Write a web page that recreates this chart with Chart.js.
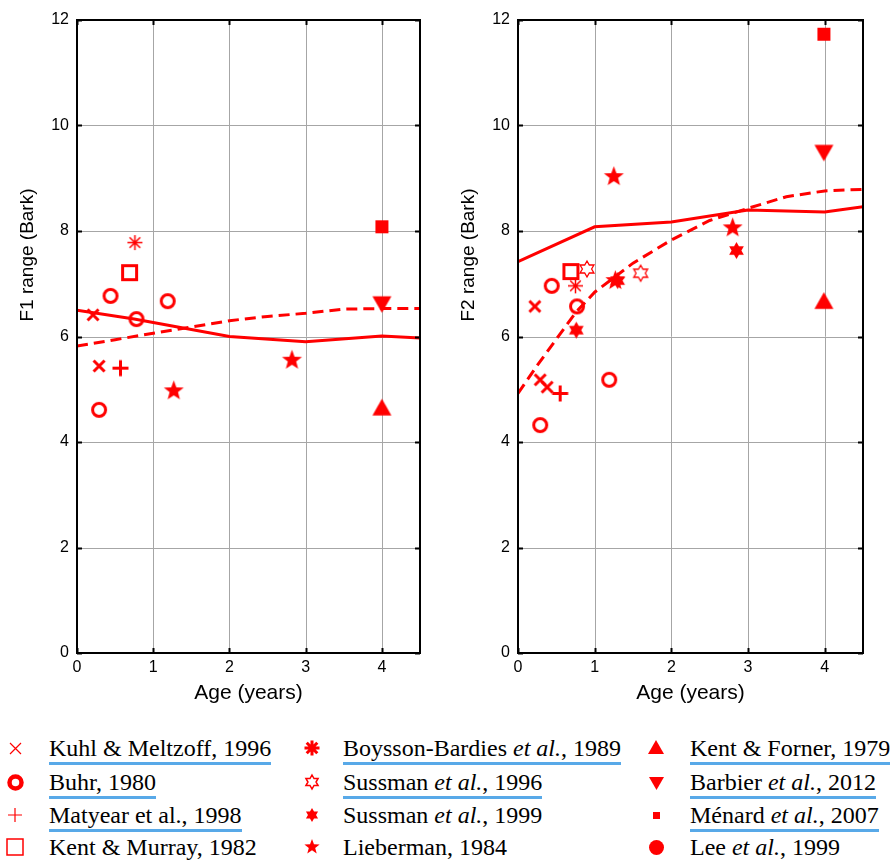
<!DOCTYPE html>
<html>
<head>
<meta charset="utf-8">
<script src="https://cdn.jsdelivr.net/npm/chart.js@4"></script>
<style>
  body { margin: 0; background: #fff; width: 893px; height: 860px; position: relative; overflow: hidden; }
  canvas.plot { position: absolute; top: 0; }
  .entry { position: absolute; height: 26px; line-height: 26px; white-space: nowrap;
    font-family: 'Liberation Serif', 'Times New Roman', serif; font-size: 24px; color: #000; }
  .entry .u { display: inline-block; line-height: 27px; border-bottom: 3px solid #58a9e8; }
  .sym { position: absolute; }
</style>
</head>
<body>
<canvas id="f1" class="plot" width="446" height="720" style="left:0"></canvas>
<canvas id="f2" class="plot" width="446" height="720" style="left:441px"></canvas>
<div id="legend"></div>
<script>
const ageTicks = [0, 1, 2, 3, 4];
const barkTicks = [0, 2, 4, 6, 8, 10, 12];

// model curves (age in years, range in Bark)
const solidAgeF1 = [0, 0.75, 2, 3, 4, 4.5];
const solidF1 = [6.5, 6.33, 6.0, 5.9, 6.01, 5.97];
const dashedAgeF1 = [0, 0.5, 1, 1.5, 2, 2.5, 3, 3.5, 4, 4.5];
const dashedF1 = [5.82, 5.94, 6.06, 6.18, 6.3, 6.38, 6.44, 6.52, 6.53, 6.53];

const solidAgeF2 = [0, 1, 2, 3, 4, 4.5];
const solidF2 = [7.42, 8.08, 8.17, 8.4, 8.36, 8.46];
const dashedAgeF2 = [0, 0.25, 0.5, 0.75, 1, 1.5, 2, 2.5, 3, 3.5, 4, 4.5];
const dashedF2 = [4.92, 5.45, 5.95, 6.45, 6.84, 7.39, 7.83, 8.2, 8.43, 8.65, 8.76, 8.79];

// study points, [age, range]
const kuhlF1 = [[0.21, 6.41], [0.29, 5.44]];
const buhrF1 = [[0.44, 6.77], [0.78, 6.33], [1.19, 6.67], [0.29, 4.61]];
const matyearF1 = [[0.57, 5.4]];
const kentMurrayF1 = [[0.69, 7.21]];
const boyssonF1 = [[0.76, 7.78]];
const liebermanF1 = [[1.27, 4.97], [2.82, 5.55]];
const kentFornerF1 = [[4, 4.64]];
const barbierF1 = [[4, 6.63]];
const menardF1 = [[4, 8.08]];

const kuhlF2 = [[0.22, 6.57], [0.29, 5.18], [0.38, 5.04]];
const buhrF2 = [[0.44, 6.96], [0.77, 6.57], [1.19, 5.18], [0.29, 4.32]];
const matyearF2 = [[0.55, 4.92]];
const kentMurrayF2 = [[0.69, 7.23]];
const boyssonF2 = [[0.75, 6.96]];
const sussman96F2 = [[0.9, 7.28], [1.6, 7.2]];
const sussman99F2 = [[0.76, 6.12], [1.3, 7.06], [2.85, 7.63]];
const liebermanF2 = [[1.25, 9.03], [1.27, 7.06], [2.8, 8.06]];
const kentFornerF2 = [[3.99, 6.66]];
const barbierF2 = [[3.99, 9.5]];
const menardF2 = [[3.99, 11.73]];

const red = '#ff0000';

function starPath(ctx, m, points, outer, inner) {
  for (let i = 0; i < points * 2; i++) {
    const r = i % 2 === 0 ? outer : inner;
    const a = -Math.PI / 2 + i * Math.PI / points;
    const px = m + r * Math.cos(a), py = m + r * Math.sin(a);
    i === 0 ? ctx.moveTo(px, py) : ctx.lineTo(px, py);
  }
  ctx.closePath();
}

// draws one marker into its own small canvas, used as pointStyle and in the legend
function marker(kind, size, lw, filled) {
  const c = document.createElement('canvas');
  const d = Math.ceil(size + lw + 4);
  c.width = d; c.height = d;
  const ctx = c.getContext('2d');
  const m = d / 2, r = size / 2;
  ctx.strokeStyle = red; ctx.fillStyle = red; ctx.lineWidth = lw;
  ctx.beginPath();
  if (kind === 'x') {
    ctx.moveTo(m - r, m - r); ctx.lineTo(m + r, m + r);
    ctx.moveTo(m + r, m - r); ctx.lineTo(m - r, m + r);
  } else if (kind === '+') {
    ctx.moveTo(m - r, m); ctx.lineTo(m + r, m);
    ctx.moveTo(m, m - r); ctx.lineTo(m, m + r);
  } else if (kind === 'asterisk') {
    for (let k = 0; k < 4; k++) {
      const a = k * Math.PI / 4;
      ctx.moveTo(m - r * Math.cos(a), m - r * Math.sin(a));
      ctx.lineTo(m + r * Math.cos(a), m + r * Math.sin(a));
    }
  } else if (kind === 'circle') {
    ctx.arc(m, m, r, 0, Math.PI * 2);
  } else if (kind === 'square') {
    ctx.rect(m - r, m - r, size, size);
  } else if (kind === 'star5') {
    starPath(ctx, m, 5, r, r * 0.42);
  } else if (kind === 'hex') {
    starPath(ctx, m, 6, r, r * 0.577);
  } else if (kind === 'tri') {
    ctx.moveTo(m, m - r); ctx.lineTo(m + r, m + r * 0.75); ctx.lineTo(m - r, m + r * 0.75); ctx.closePath();
  } else if (kind === 'tridown') {
    ctx.moveTo(m, m + r); ctx.lineTo(m + r, m - r * 0.75); ctx.lineTo(m - r, m - r * 0.75); ctx.closePath();
  }
  if (filled) ctx.fill(); else ctx.stroke();
  return c;
}

const mk = {
  kuhl: marker('x', 11, 3, false),
  buhr: marker('circle', 13, 3, false),
  matyear: marker('+', 16, 3, false),
  kentMurray: marker('square', 14, 3, false),
  boysson: marker('asterisk', 15, 1.5, false),
  sussman96: marker('hex', 16, 1.3, false),
  sussman99: marker('hex', 17, 0, true),
  lieberman: marker('star5', 21, 0, true),
  kentForner: marker('tri', 19, 0, true),
  barbier: marker('tridown', 19, 0, true),
  menard: marker('square', 13, 0, true)
};

const pts = (arr) => arr.map(([x, y]) => ({ x, y }));
const line = (xs, ys) => xs.map((x, i) => ({ x, y: ys[i] }));

function scatterSet(arr, style) {
  return { data: pts(arr), pointStyle: style, pointRadius: 8, showLine: false };
}

// grid under the data, box + inward ticks and axis titles on top
const framePlugin = {
  id: 'frame',
  beforeDatasetsDraw(chart) {
    const { ctx, chartArea: a, scales } = chart;
    ctx.save();
    ctx.strokeStyle = '#a6a6a6';
    ctx.lineWidth = 1;
    ctx.beginPath();
    barkTicks.forEach((v) => {
      const y = Math.round(scales.y.getPixelForValue(v)) + 0.5;
      ctx.moveTo(a.left, y); ctx.lineTo(a.right, y);
    });
    ageTicks.forEach((v) => {
      const x = Math.round(scales.x.getPixelForValue(v)) + 0.5;
      ctx.moveTo(x, a.top); ctx.lineTo(x, a.bottom);
    });
    ctx.stroke();
    ctx.restore();
  },
  afterDraw(chart, args, opts) {
    const { ctx, chartArea: a, scales } = chart;
    ctx.save();
    ctx.strokeStyle = '#000';
    ctx.lineWidth = 2;
    ctx.strokeRect(a.left, a.top, a.right - a.left, a.bottom - a.top);
    ctx.beginPath();
    barkTicks.forEach((v) => {
      const y = Math.round(scales.y.getPixelForValue(v)) + 0.5;
      ctx.moveTo(a.left, y); ctx.lineTo(a.left + 5, y);
      ctx.moveTo(a.right, y); ctx.lineTo(a.right - 5, y);
    });
    ageTicks.forEach((v) => {
      const x = Math.round(scales.x.getPixelForValue(v)) + 0.5;
      ctx.moveTo(x, a.bottom); ctx.lineTo(x, a.bottom - 5);
      ctx.moveTo(x, a.top); ctx.lineTo(x, a.top + 5);
    });
    ctx.stroke();
    ctx.fillStyle = '#000';
    ctx.textAlign = 'center';
    ctx.textBaseline = 'middle';
    ctx.font = '21px "Liberation Sans"';
    ctx.fillText(opts.xTitle, (a.left + a.right) / 2, 693);
    ctx.translate(28, 255);
    ctx.rotate(-Math.PI / 2);
    ctx.font = '19px "Liberation Sans"';
    ctx.fillText(opts.yTitle, 0, 0);
    ctx.restore();
  }
};

function makeChart(id, yTitle, padRight, sets) {
  new Chart(document.getElementById(id), {
    type: 'scatter',
    data: { datasets: sets },
    plugins: [framePlugin],
    options: {
      responsive: false,
      animation: false,
      layout: { padding: { left: 10, right: padRight, top: 20, bottom: 0 } },
      plugins: {
        legend: { display: false },
        tooltip: { enabled: false },
        frame: { xTitle: 'Age (years)', yTitle: yTitle }
      },
      elements: { line: { tension: 0 } },
      scales: {
        x: {
          type: 'linear', min: 0, max: 4.5,
          afterBuildTicks: (s) => { s.ticks = ageTicks.map((v) => ({ value: v })); },
          afterFit: (s) => { s.height = 67; },
          grid: { display: false, drawTicks: false },
          border: { display: false },
          ticks: { color: '#000', padding: 5, font: { family: 'Liberation Sans', size: 16 } }
        },
        y: {
          type: 'linear', min: 0, max: 12,
          afterBuildTicks: (s) => { s.ticks = barkTicks.map((v) => ({ value: v })); },
          afterFit: (s) => { s.width = 67; },
          grid: { display: false, drawTicks: false },
          border: { display: false },
          ticks: { color: '#000', padding: 8, font: { family: 'Liberation Sans', size: 16 } }
        }
      }
    }
  });
}

const lineStyle = { showLine: true, pointRadius: 0, borderColor: red, borderWidth: 3, fill: false };

makeChart('f1', 'F1 range (Bark)', 26, [
  scatterSet(kuhlF1, mk.kuhl),
  scatterSet(buhrF1, mk.buhr),
  scatterSet(matyearF1, mk.matyear),
  scatterSet(kentMurrayF1, mk.kentMurray),
  scatterSet(boyssonF1, mk.boysson),
  scatterSet(liebermanF1, mk.lieberman),
  scatterSet(kentFornerF1, mk.kentForner),
  scatterSet(barbierF1, mk.barbier),
  scatterSet(menardF1, mk.menard),
  { ...lineStyle, data: line(solidAgeF1, solidF1) },
  { ...lineStyle, data: line(dashedAgeF1, dashedF1), borderDash: [11, 6] }
]);

makeChart('f2', 'F2 range (Bark)', 24, [
  scatterSet(kuhlF2, mk.kuhl),
  scatterSet(buhrF2, mk.buhr),
  scatterSet(matyearF2, mk.matyear),
  scatterSet(kentMurrayF2, mk.kentMurray),
  scatterSet(boyssonF2, mk.boysson),
  scatterSet(sussman96F2, mk.sussman96),
  scatterSet(sussman99F2, mk.sussman99),
  scatterSet(liebermanF2, mk.lieberman),
  scatterSet(kentFornerF2, mk.kentForner),
  scatterSet(barbierF2, mk.barbier),
  scatterSet(menardF2, mk.menard),
  { ...lineStyle, data: line(solidAgeF2, solidF2) },
  { ...lineStyle, data: line(dashedAgeF2, dashedF2), borderDash: [11, 6] }
]);

// legend: [label html, marker, underlined]
const legendCols = [
  [
    ['Kuhl &amp; Meltzoff, 1996', marker('x', 11, 1.2, false), true],
    ['Buhr, 1980', marker('circle', 12, 4.5, false), true],
    ['Matyear et al., 1998', marker('+', 14, 1.2, false), true],
    ['Kent &amp; Murray, 1982', marker('square', 16, 1.5, false), false]
  ],
  [
    ['Boysson-Bardies <i>et al.</i>, 1989', marker('asterisk', 15, 3, false), true],
    ['Sussman <i>et al.</i>, 1996', marker('hex', 14, 1.5, false), true],
    ['Sussman <i>et al.</i>, 1999', marker('hex', 14, 0, true), false],
    ['Lieberman, 1984', marker('star5', 16, 0, true), false]
  ],
  [
    ['Kent &amp; Forner, 1979', marker('tri', 16, 0, true), true],
    ['Barbier <i>et al.</i>, 2012', marker('tridown', 15, 0, true), true],
    ['M&eacute;nard <i>et al.</i>, 2007', marker('square', 7, 0, true), true],
    ['Lee <i>et al.</i>, 1999', marker('circle', 15, 0, true), false]
  ]
];
const symX = [15, 312, 656];
const textX = [49, 343, 690];
const rowY = [748, 782, 815, 847];

const legend = document.getElementById('legend');
legendCols.forEach((col, ci) => {
  col.forEach(([label, sym, under], ri) => {
    sym.className = 'sym';
    sym.style.left = (symX[ci] - sym.width / 2) + 'px';
    sym.style.top = (rowY[ri] - sym.height / 2) + 'px';
    legend.appendChild(sym);
    const div = document.createElement('div');
    div.className = 'entry';
    div.style.left = textX[ci] + 'px';
    div.style.top = (rowY[ri] - 13) + 'px';
    div.innerHTML = under ? '<span class="u">' + label + '</span>' : label;
    legend.appendChild(div);
  });
});
</script>
</body>
</html>
